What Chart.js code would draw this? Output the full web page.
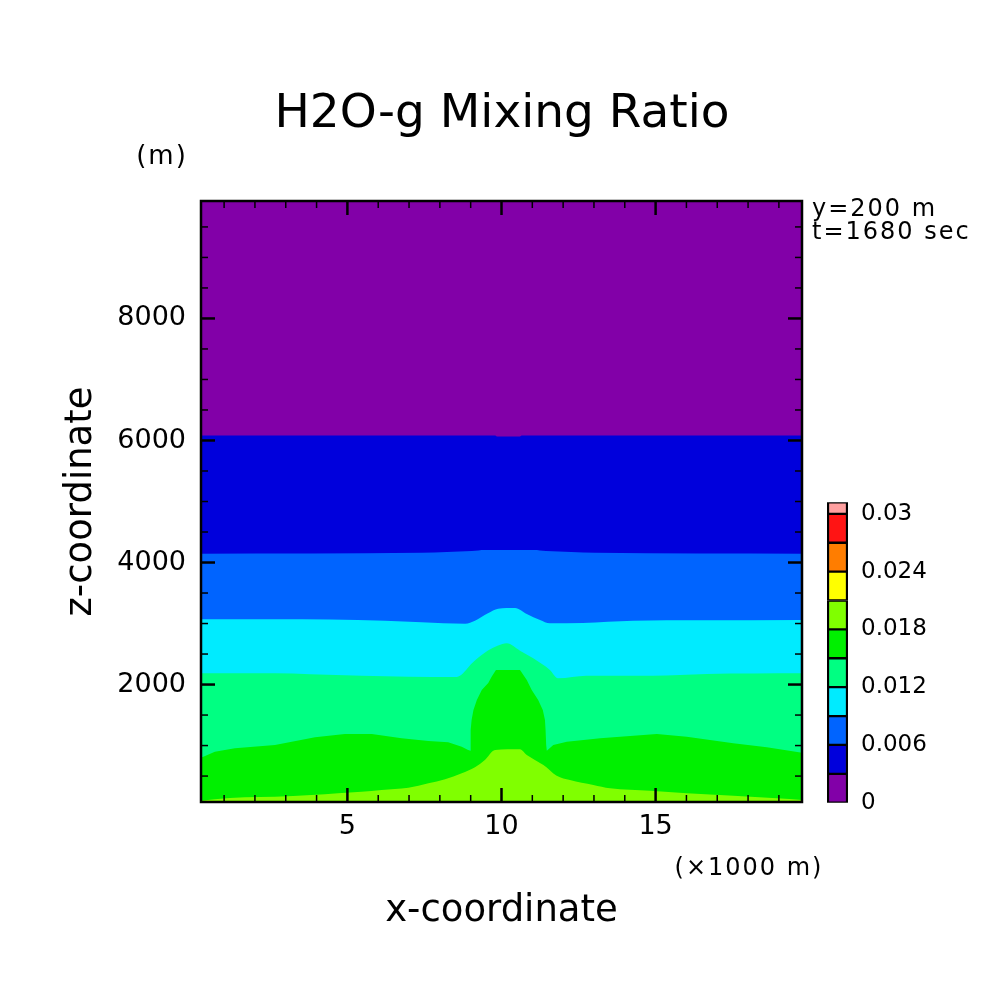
<!DOCTYPE html>
<html>
<head>
<meta charset="utf-8">
<title>H2O-g Mixing Ratio</title>
<script src="https://cdn.jsdelivr.net/npm/chart.js@4.4.0/dist/chart.umd.min.js"></script>
<style>
  html, body { margin: 0; padding: 0; background: #fff; overflow: hidden; }
  #wrap { position: relative; width: 1004px; height: 1004px; }
  #main { position: absolute; left: 0; top: 0; }
  #cbar { position: absolute; left: 800px; top: 480px; }
</style>
</head>
<body>
<div id="wrap">
  <canvas id="main" width="1004" height="1004"></canvas>
  <canvas id="cbar" width="204" height="340"></canvas>
</div>
<script>
// domain (x in km, z in m)
const xRange = [0.25, 19.75];
const zRange = [75, 9925];

const xMajor = [5, 10, 15];
const xMinor = [1, 2, 3, 4, 6, 7, 8, 9, 11, 12, 13, 14, 16, 17, 18, 19];
const zMajor = [2000, 4000, 6000, 8000];
const zMinor = [500, 1000, 1500, 2500, 3000, 3500, 4500, 5000, 5500, 6500, 7000, 7500, 8500, 9000, 9500];

// contour lines: height (m) of each level vs x (km)
const topX = [0.25, 19.75];
const topZ = [9925, 9925];

const q003X = [0.25, 9.8, 9.85, 10.6, 10.65, 19.75];
const q003Z = [6080, 6080, 6064, 6064, 6080, 6080];

const q006X = [0.25, 7.42, 8.23, 9.04, 9.46, 11.05, 11.44, 12.26, 13.03, 19.75];
const q006Z = [4145, 4161, 4173, 4190, 4206, 4206, 4190, 4173, 4161, 4145];

const q009X = [0.25, 2.65, 6.22, 7.41, 8.82, 9.14, 9.56, 9.89, 10.44, 10.82, 11.25, 11.57, 12.64, 14.27, 16.44, 19.75];
const q009Z = [3069, 3069, 3046, 3020, 2997, 3046, 3168, 3243, 3255, 3156, 3058, 3004, 3009, 3046, 3053, 3058];

const q012X = [0.25, 2.65, 3.79, 5.46, 8.50, 8.70, 8.85, 9.0, 9.24, 9.56, 9.89, 10.17, 10.60, 11.03, 11.57, 11.83, 12.76, 14.92, 16.66, 19.75];
const q012Z = [2184, 2184, 2168, 2145, 2122, 2160, 2238, 2330, 2440, 2560, 2640, 2676, 2555, 2430, 2238, 2102, 2145, 2145, 2173, 2184];

const q015X = [0.25, 0.70, 1.35, 2.65, 3.95, 4.92, 5.79, 6.76, 7.63, 8.27, 8.71, 8.90, 8.99, 9.00, 9.03, 9.09, 9.20, 9.36, 9.57, 9.68, 9.82, 10.60, 10.82, 10.98, 11.19, 11.34, 11.41, 11.43, 11.45, 11.47, 11.68, 12.12, 13.20, 14.28, 15.04, 16.01, 17.52, 18.61, 19.75];
const q015Z = [801, 899, 955, 1009, 1135, 1190, 1190, 1119, 1075, 1053, 981, 930, 915, 1255, 1419, 1583, 1747, 1911, 2026, 2129, 2238, 2238, 2075, 1911, 1747, 1583, 1419, 1255, 1009, 916, 1009, 1063, 1119, 1162, 1190, 1145, 1037, 972, 883];

const q018X = [0.25, 0.70, 1.68, 2.65, 3.84, 4.70, 5.46, 6.11, 6.98, 7.63, 8.17, 8.71, 9.14, 9.46, 9.79, 10.60, 10.82, 11.03, 11.36, 11.79, 12.22, 12.98, 13.52, 14.82, 16.01, 17.52, 18.93, 19.75];
const q018Z = [96, 119, 152, 162, 190, 218, 244, 272, 309, 381, 447, 545, 644, 763, 927, 939, 845, 780, 681, 506, 436, 354, 300, 260, 218, 178, 136, 108];

// colour bar
const cbLevels = [0, 0.003, 0.006, 0.009, 0.012, 0.015, 0.018, 0.021, 0.024, 0.027, 0.030, 0.0312];
const cbColors = ['#8200a8', '#0000dc', '#0064ff', '#00ebff', '#00ff82', '#00f000', '#80ff00', '#ffff00', '#ff7d00', '#ff1414', '#ffa0a0'];
const cbTicks = [0, 0.006, 0.012, 0.018, 0.024, 0.03];
const cbTickLabels = ['0', '0.006', '0.012', '0.018', '0.024', '0.03'];

Chart.defaults.font.family = "'DejaVu Sans', sans-serif";
Chart.defaults.color = '#000';

function band(xs, zs, color, order, smooth) {
  return {
    data: xs.map((x, i) => ({ x: x, y: zs[i] })),
    backgroundColor: color,
    borderColor: 'transparent',
    borderWidth: 0,
    pointRadius: 0,
    fill: 'start',
    cubicInterpolationMode: smooth ? 'monotone' : 'default',
    tension: 0,
    order: order
  };
}

// frame, inward ticks and the small notes
const framePlugin = {
  id: 'frame',
  afterDatasetsDraw(chart) {
    const { ctx, chartArea: a, scales } = chart;
    const x = scales.x, y = scales.y;
    ctx.save();
    ctx.strokeStyle = '#000';
    ctx.lineCap = 'butt';
    function seg(x1, y1, x2, y2, w) {
      ctx.lineWidth = w;
      ctx.beginPath();
      ctx.moveTo(x1, y1);
      ctx.lineTo(x2, y2);
      ctx.stroke();
    }
    xMinor.forEach(v => {
      const p = x.getPixelForValue(v);
      seg(p, a.bottom, p, a.bottom - 7, 1.5);
      seg(p, a.top, p, a.top + 7, 1.5);
    });
    xMajor.forEach(v => {
      const p = x.getPixelForValue(v);
      seg(p, a.bottom, p, a.bottom - 14, 2.5);
      seg(p, a.top, p, a.top + 14, 2.5);
    });
    zMinor.forEach(v => {
      const p = y.getPixelForValue(v);
      seg(a.left, p, a.left + 7, p, 1.5);
      seg(a.right, p, a.right - 7, p, 1.5);
    });
    zMajor.forEach(v => {
      const p = y.getPixelForValue(v);
      seg(a.left, p, a.left + 14, p, 2.5);
      seg(a.right, p, a.right - 14, p, 2.5);
    });
    ctx.lineWidth = 2.5;
    ctx.strokeRect(a.left, a.top, a.right - a.left, a.bottom - a.top);
    ctx.restore();
  },
  afterDraw(chart) {
    const ctx = chart.ctx;
    ctx.save();
    ctx.fillStyle = '#000';
    ctx.textBaseline = 'middle';
    ctx.font = "26px 'DejaVu Sans'";
    ctx.letterSpacing = '2px';
    ctx.textAlign = 'center';
    ctx.fillText('(m)', 162, 157);
    ctx.font = "24px 'DejaVu Sans'";
    ctx.fillText('(\u00d71000 m)', 749, 869);
    ctx.textAlign = 'left';
    ctx.fillText('y=200 m', 812, 210);
    ctx.fillText('t=1680 sec', 812, 233);
    ctx.restore();
  }
};

new Chart(document.getElementById('main'), {
  type: 'line',
  data: {
    datasets: [
      band(topX, topZ, cbColors[0], 9, true),
      band(q003X, q003Z, cbColors[1], 8, true),
      band(q006X, q006Z, cbColors[2], 7, true),
      band(q009X, q009Z, cbColors[3], 6, true),
      band(q012X, q012Z, cbColors[4], 5, true),
      band(q015X, q015Z, cbColors[5], 4, false),
      band(q018X, q018Z, cbColors[6], 3, true)
    ]
  },
  options: {
    responsive: false,
    animation: false,
    events: [],
    layout: { padding: 0 },
    plugins: {
      legend: { display: false },
      tooltip: { enabled: false },
      title: {
        display: true,
        text: 'H2O-g Mixing Ratio',
        font: { size: 47, weight: 'normal' },
        color: '#000',
        padding: { top: 86.8, bottom: 57.8 }
      }
    },
    scales: {
      x: {
        type: 'linear',
        min: xRange[0],
        max: xRange[1],
        afterBuildTicks: s => { s.ticks = xMajor.map(v => ({ value: v })); },
        ticks: { font: { size: 27 }, color: '#000', padding: 8.5, maxRotation: 0, autoSkip: false, callback: v => String(v) },
        grid: { display: false, drawTicks: false },
        border: { display: false },
        title: { display: true, text: 'x-coordinate', font: { size: 37 }, color: '#000', padding: { top: 0, bottom: 70.7 } },
        afterFit: s => { s.height = 202; s.paddingLeft = 0; s.paddingRight = 0; }
      },
      y: {
        type: 'linear',
        position: 'left',
        min: zRange[0],
        max: zRange[1],
        afterBuildTicks: s => { s.ticks = zMajor.map(v => ({ value: v })); },
        ticks: { font: { size: 27 }, color: '#000', padding: 15, autoSkip: false, callback: v => String(v) },
        grid: { display: false, drawTicks: false },
        border: { display: false },
        title: { display: true, text: 'z-coordinate', font: { size: 37 }, color: '#000', padding: { top: 59.1, bottom: 0 } },
        afterFit: s => { s.width = 201; s.paddingTop = 0; s.paddingBottom = 0; }
      },
      yR: {
        type: 'linear',
        axis: 'y',
        position: 'right',
        min: zRange[0],
        max: zRange[1],
        ticks: { display: false },
        grid: { display: false, drawTicks: false },
        border: { display: false },
        afterFit: s => { s.width = 202; s.paddingTop = 0; s.paddingBottom = 0; }
      }
    }
  },
  plugins: [framePlugin]
});

// colour bar as one stacked bar
new Chart(document.getElementById('cbar'), {
  type: 'bar',
  data: {
    labels: [''],
    datasets: cbColors.map((c, i) => ({
      data: [cbLevels[i + 1] - cbLevels[i]],
      backgroundColor: c,
      borderColor: '#000',
      borderWidth: { top: 1.5, bottom: 1.5, left: 2.5, right: 2.5 },
      borderSkipped: false,
      barThickness: 21
    }))
  },
  options: {
    responsive: false,
    animation: false,
    events: [],
    layout: { padding: { left: 27, top: 22.3, bottom: 17.3, right: 0 } },
    plugins: { legend: { display: false }, tooltip: { enabled: false } },
    scales: {
      x: { display: false, stacked: true },
      y: {
        stacked: true,
        position: 'right',
        min: 0,
        max: cbLevels[cbLevels.length - 1],
        afterBuildTicks: s => { s.ticks = cbTicks.map(v => ({ value: v })); },
        ticks: { font: { size: 23 }, color: '#000', padding: 13, autoSkip: false, callback: (v, i) => cbTickLabels[i] },
        grid: { display: false, drawTicks: false },
        border: { display: false },
        afterFit: s => { s.width = 156; s.paddingTop = 0; s.paddingBottom = 0; }
      }
    }
  }
});
</script>
</body>
</html>
